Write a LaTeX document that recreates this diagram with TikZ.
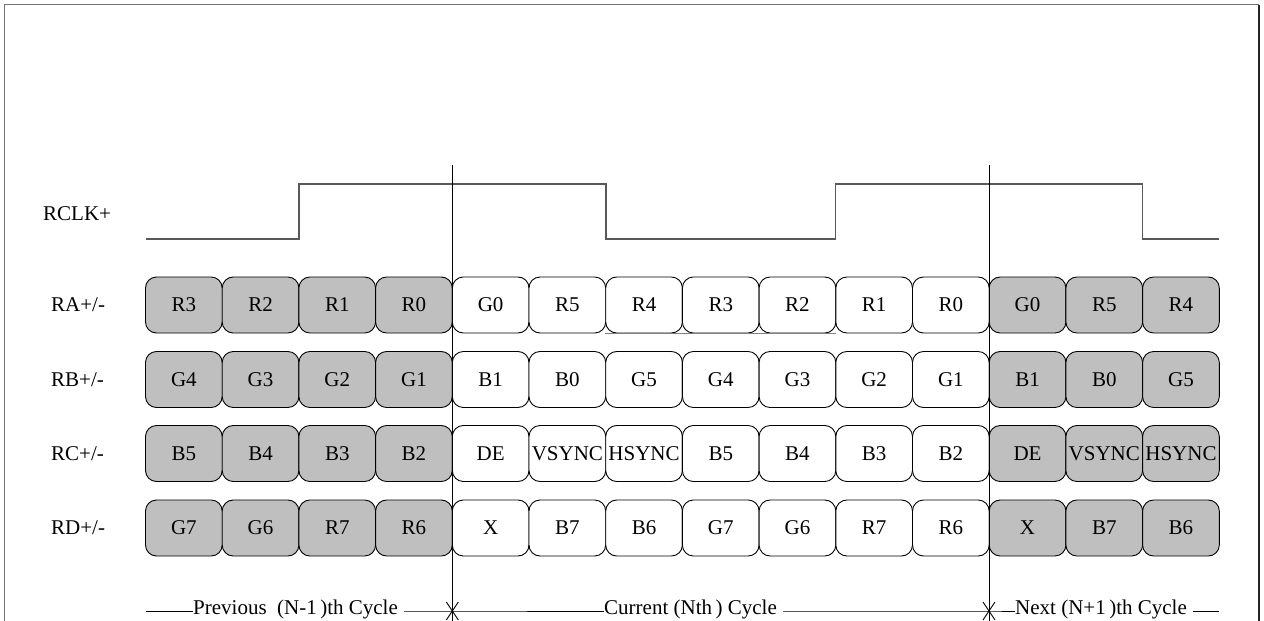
\documentclass[tikz,border=0pt]{standalone}
\usepackage{fontspec}
\setmainfont{Liberation Serif}
\definecolor{oldbit}{gray}{0.75}
\definecolor{wireline}{gray}{0.35}
\tikzset{
  bitbox/.style={draw=black, line width=0.9pt, rounded corners=11pt,
    minimum width=76.7pt, minimum height=56pt, inner sep=0pt},
  sigtext/.style={anchor=west, inner sep=0pt},
  cyctext/.style={inner sep=0pt},
}
\begin{document}
\begin{tikzpicture}[x=1pt, y=-1pt, font=\fontsize{21}{24}\selectfont]
                        \useasboundingbox (0,0) rectangle (1264,621);
                        \coordinate (FL) at (4.5,621);
                        \coordinate (TL) at (4.5,4.5);
                        \coordinate (TR) at (1259,4.5);
                        \coordinate (FR) at (1259,621);

                        % Frame, open at the bottom.
                        \draw [line width=1.4pt, black!55] (FL) -- (TL) -- (TR);
                        \draw [line width=1.4pt, black!85] (TR) -- (FR);

                        % Signal names.
                        \node [sigtext] (clk) at (43,214) {RCLK+};
                        \node [sigtext] (la) at (51,305) {RA+/-};
                        \node [sigtext] (lb) at (51,379.5) {RB+/-};
                        \node [sigtext] (lc) at (51,453.5) {RC+/-};
                        \node [sigtext] (ld) at (51,528) {RD+/-};

                        % Clock waveform.
                        \coordinate (C0) at (145.5,239);
                        \coordinate (C1) at (299,239);
                        \coordinate (C2) at (299,184);
                        \coordinate (C3) at (606,184);
                        \coordinate (C4) at (606,239);
                        \coordinate (C5) at (835.8,239);
                        \coordinate (C6) at (835.8,184);
                        \coordinate (C7) at (1142.5,184);
                        \coordinate (C8) at (1142.5,239);
                        \coordinate (C9) at (1219,239);
                        \draw [line width=1.2pt, wireline] (C0) -- (C1) -- (C2) -- (C3) -- (C4)
                              -- (C5) -- (C6) -- (C7) -- (C8) -- (C9);

                        % Data slots, shaded outside the current cycle.
                        \foreach \row/\yy/\bits in {
                            ra/305/{R3,R2,R1,R0,G0,R5,R4,R3,R2,R1,R0,G0,R5,R4},
                            rb/379.5/{G4,G3,G2,G1,B1,B0,G5,G4,G3,G2,G1,B1,B0,G5},
                            rc/453.5/{B5,B4,B3,B2,DE,VSYNC,HSYNC,B5,B4,B3,B2,DE,VSYNC,HSYNC},
                            rd/528/{G7,G6,R7,R6,X,B7,B6,G7,G6,R7,R6,X,B7,B6}} {
                          \foreach \lab [count=\i] in \bits {
                            \ifnum\i<5 \def\boxfill{oldbit}\else
                              \ifnum\i>11 \def\boxfill{oldbit}\else\def\boxfill{white}\fi\fi
                            \node [bitbox, fill=\boxfill] (\row\i) at ({145.5+(\i-0.5)*76.7},\yy) {\lab};
                          }
                        }
                        \draw [line width=1.2pt, black!50] (ra7.south west) -- (ra9.south east);

                        % Cycle boundaries.
                        \coordinate (S1) at (452.3,165);
                        \coordinate (E1) at (452.3,621);
                        \coordinate (S2) at (989,165);
                        \coordinate (E2) at (989,621);
                        \draw [line width=1pt] (S1) -- (E1);
                        \draw [line width=1pt] (S2) -- (E2);

                        % Cycle names along the bottom.
                        \coordinate (A0) at (145.5,611);
                        \coordinate (A1) at (452.3,611);
                        \coordinate (A2) at (989,611);
                        \coordinate (A3) at (1219,611);
                        \node [cyctext, anchor=west] (prev) at (193,609) {Previous\ \ (N-1\,)th Cycle};
                        \node [cyctext, anchor=west] (curr) at (604,609) {Current (Nth\,) Cycle};
                        \node [cyctext, anchor=west] (next) at (1015,609) {Next (N+1\,)th Cycle};
                        \draw [line width=1pt] (A0) -- (prev.west |- A0);
                        \draw [line width=1pt] ([xshift=6pt]prev.east |- A0) -- (A1) -- (curr.west |- A1);
                        \draw [line width=1pt] ([xshift=6pt]curr.east |- A1) -- (A2) -- (next.west |- A2);
                        \draw [line width=1pt] ([xshift=6pt]next.east |- A2) -- (A3);

                        % Cross marks on the boundaries.
                        \draw [line width=0.9pt] ([shift={(-6,-9)}]A1) -- ([shift={(6,9)}]A1);
                        \draw [line width=0.9pt] ([shift={(-6,9)}]A1) -- ([shift={(6,-9)}]A1);
                        \draw [line width=0.9pt] ([shift={(-6,-9)}]A2) -- ([shift={(6,9)}]A2);
                        \draw [line width=0.9pt] ([shift={(-6,9)}]A2) -- ([shift={(6,-9)}]A2);

                    \end{tikzpicture}
\end{document}
